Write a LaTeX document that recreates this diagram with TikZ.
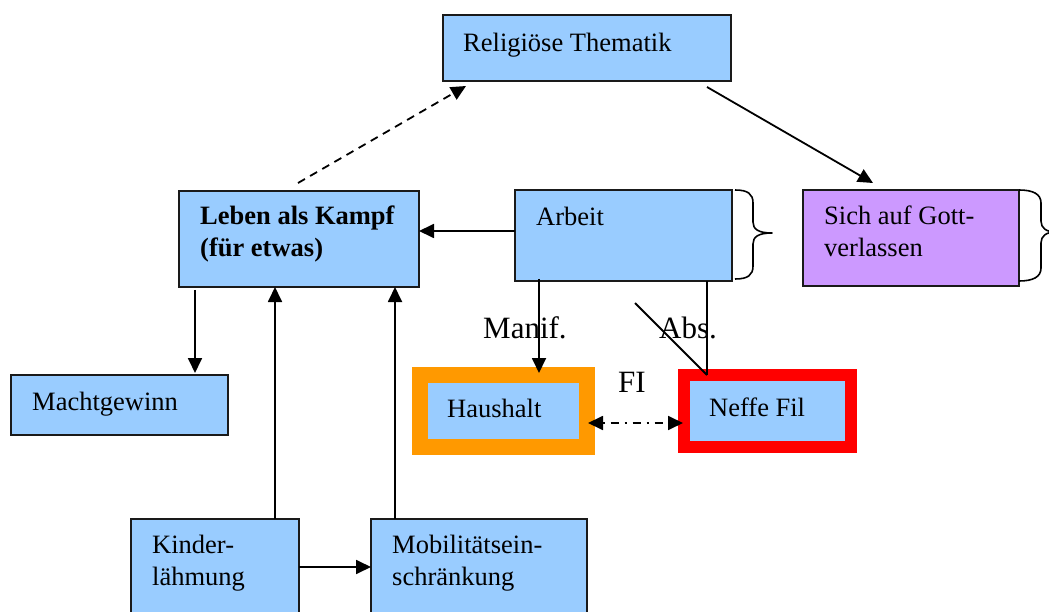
\documentclass[tikz,border=0pt]{standalone}
\usepackage{fontspec}
\setmainfont{Liberation Serif}
\usetikzlibrary{arrows.meta,calc}
\definecolor{boxblue}{HTML}{99CCFF}
\definecolor{boxpurple}{HTML}{CC99FF}
\definecolor{hhorange}{HTML}{FF9900}
\definecolor{nfred}{HTML}{FF0000}
\definecolor{edgecol}{HTML}{1A1A1A}
\tikzset{
  box/.style={draw=edgecol, line width=2pt, fill=boxblue, inner sep=0pt, outer sep=0pt, anchor=north west},
  lbl/.style={anchor=base west, inner sep=0pt, align=left, font=\fontsize{26.5}{32}\selectfont},
  biglbl/.style={anchor=base west, inner sep=0pt, font=\fontsize{31}{36}\selectfont},
  arr/.style={line width=1.8pt, -{Triangle[length=15pt,width=14pt]}},
  dblarr/.style={line width=1.8pt, {Triangle[length=15pt,width=14pt]}-{Triangle[length=15pt,width=14pt]}},
  ln/.style={line width=1.8pt},
  bracecurve/.style={line width=1.6pt, line join=round},
}
\begin{document}
\begin{tikzpicture}[x=1pt,y=-1pt]
\useasboundingbox (0,0) rectangle (1049,612);
\clip (0,0) rectangle (1049,612);
% boxes
\node[box, minimum width=288pt, minimum height=66pt] (rel) at (443,15) {};
\node[box, minimum width=240pt, minimum height=96pt] (leb) at (179,191) {};
\node[box, minimum width=217pt, minimum height=91pt] (arb) at (515,190) {};
\node[box, fill=boxpurple, minimum width=216pt, minimum height=96pt] (sich) at (803,190) {};
\node[box, minimum width=217pt, minimum height=60pt] (mg) at (11,375) {};
\node[box, draw=hhorange, line width=16pt, minimum width=167pt, minimum height=72pt] (hh) at (420,375) {};
\node[box, draw=nfred, line width=12pt, minimum width=167pt, minimum height=72pt] (nf) at (684,375) {};
\node[box, minimum width=168pt, minimum height=120pt] (kin) at (131,519) {};
\node[box, minimum width=216pt, minimum height=120pt] (mob) at (371,519) {};
% texts (base west of multi-line nodes = baseline of the last line)
\node[lbl] (relt) at (463,52) {Religiöse Thematik};
\node[lbl, font=\fontsize{26.5}{32}\selectfont\bfseries] (lebt) at (200,257) {Leben als Kampf\\(für etwas)};
\node[lbl] (arbt) at (536,226) {Arbeit};
\node[lbl] (sicht) at (824,257) {Sich auf Gott-\\verlassen};
\node[lbl] (mgt) at (32,410) {Machtgewinn};
\node[lbl] (hht) at (447,417) {Haushalt};
\node[lbl] (nft) at (709,416) {Neffe Fil};
\node[lbl] (kint) at (152,585) {Kinder-\\lähmung};
\node[lbl] (mobt) at (392,585) {Mobilitätsein-\\schränkung};
\node[biglbl] (manif) at (483,338) {Manif.};
\node[biglbl] (abs) at (659,338) {Abs.};
\node[biglbl] (fi) at (618,392) {FI};
% connectors
\draw[arr, dashed, dash pattern=on 8pt off 6pt] ($(leb.north west)+(119,-8)$) -- ($(rel.south west)+(23,5)$);
\draw[arr] ($(rel.south west)+(264,6)$) -- ($(sich.north west)+(70,-7)$);
\draw[arr] ($(arb.north west)+(0,41)$) -- ($(leb.north east)+(0,40)$);
\draw[arr] ($(leb.south west)+(16,3)$) -- ($(mg.north west)+(184,-2)$);
\draw[arr] ($(kin.north west)+(144,0)$) -- ($(leb.south west)+(96,0)$);
\draw[arr] ($(mob.north west)+(24,0)$) -- ($(leb.south west)+(216,0)$);
\draw[arr] ($(kin.north east)+(0,48)$) -- ($(mob.north west)+(0,48)$);
\draw[arr] ($(arb.south west)+(24,-2)$) -- ($(hh.north west)+(119,-2)$);
\draw[ln] ($(arb.south west)+(192,0)$) -- ($(nf.north west)+(23,0)$);
\coordinate (absstart) at (635,303);
\draw[ln] (absstart) -- ($(nf.north west)+(23,0)$);
\draw[dblarr, dash pattern=on 2pt off 6pt on 8pt off 6pt] ($(hh.east)+(1,12)$) -- ($(nf.west)+(-1,12)$);
% braces
\draw[bracecurve] (735,190) .. controls (748,190) and (753,194) .. (753,203) -- (753,222)
  .. controls (753,229) and (758,233) .. (772,233)
  .. controls (758,233) and (753,237) .. (753,244) -- (753,266)
  .. controls (753,275) and (748,279) .. (735,279);
\draw[bracecurve] (1019,190) .. controls (1033,190) and (1041,194) .. (1041,203) -- (1041,221)
  .. controls (1041,228) and (1046,232) .. (1056,232)
  .. controls (1046,232) and (1041,236) .. (1041,243) -- (1041,268)
  .. controls (1041,277) and (1033,281) .. (1019,281);
\end{tikzpicture}
\end{document}
